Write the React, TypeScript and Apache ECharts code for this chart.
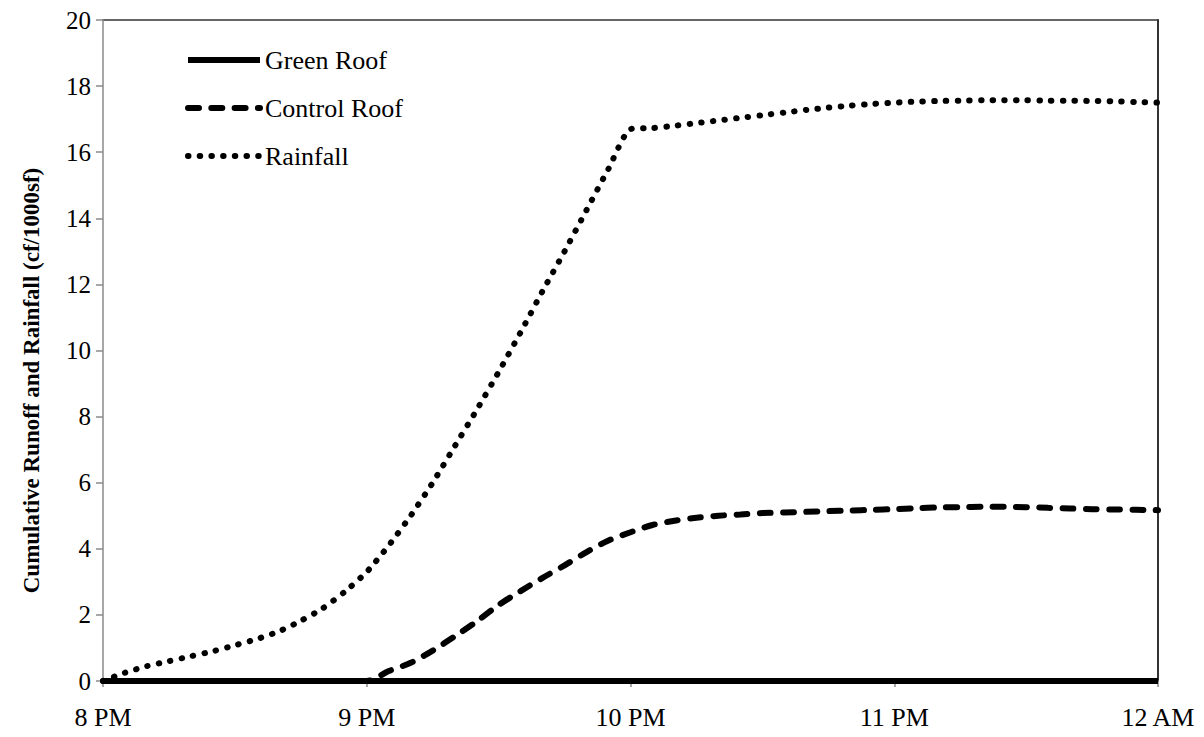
import React, { useEffect, useRef } from "react";
import * as echarts from "echarts";

// Minutes after 8 PM at which each reading was taken
const timeMinutes = [
  0, 5, 10, 15, 20, 25, 30, 35, 40, 45, 50, 55,
  60, 65, 70, 75, 80, 85, 90, 95, 100, 105, 110, 115,
  120, 125, 130, 135, 140, 145, 150, 155, 160, 165, 170, 175,
  180, 185, 190, 195, 200, 205, 210, 215, 220, 225, 230, 235, 240,
];

// Hour tick labels along the time axis (one every 60 minutes)
const hourLabels = ["8 PM", "9 PM", "10 PM", "11 PM", "12 AM"];

// Cumulative runoff and rainfall, cf per 1000 sf
const greenRoof = [
  0, 0, 0, 0, 0, 0, 0, 0, 0, 0, 0, 0,
  0, 0, 0, 0, 0, 0, 0, 0, 0, 0, 0, 0,
  0, 0, 0, 0, 0, 0, 0, 0, 0, 0, 0, 0,
  0, 0, 0, 0, 0, 0, 0, 0, 0, 0, 0, 0, 0,
];

const controlRoof = [
  0, 0, 0, 0, 0, 0, 0, 0, 0, 0, 0, 0,
  0, 0.3, 0.55, 0.92, 1.35, 1.8, 2.3, 2.72, 3.12, 3.5, 3.9, 4.25,
  4.5, 4.72, 4.85, 4.94, 5.0, 5.04, 5.08, 5.1, 5.12, 5.14, 5.16, 5.18,
  5.2, 5.23, 5.25, 5.26, 5.27, 5.27, 5.26, 5.24, 5.22, 5.2, 5.19, 5.18, 5.17,
];

const rainfall = [
  0, 0.25, 0.45, 0.6, 0.75, 0.9, 1.08, 1.27, 1.5, 1.82, 2.2, 2.7,
  3.3, 4.1, 5.0, 6.0, 7.1, 8.2, 9.35, 10.55, 11.8, 13.0, 14.25, 15.5,
  16.7, 16.73, 16.8, 16.88, 16.96, 17.04, 17.12, 17.2, 17.28, 17.35, 17.41, 17.46,
  17.5, 17.53, 17.55, 17.56, 17.57, 17.57, 17.57, 17.56, 17.56, 17.55, 17.54, 17.52, 17.5,
];

const FONT = "Liberation Serif, Times New Roman, serif";
const AXIS_GRAY = "#8a8a8a";
const FRAME = "#333333";

// Line looks shared by each series and its legend entry
const greenStyle = { color: "#000", width: 6, type: "solid" as const };
const controlStyle = { color: "#000", width: 6, type: [11, 12.3], cap: "round" as const };
const rainStyle = { color: "#000", width: 6, type: [0.5, 11.2], cap: "round" as const };

const pairs = (values: number[]) => timeMinutes.map((t, i) => [t, values[i]]);

export default function App() {
  const ref = useRef<HTMLDivElement>(null);

  useEffect(() => {
    if (!ref.current) return;
    const chart = echarts.init(ref.current, undefined, { renderer: "svg" });

    chart.setOption({
      animation: false,
      backgroundColor: "#ffffff",
      textStyle: { fontFamily: FONT },
      grid: { left: 103, right: 46, top: 20, bottom: 56, containLabel: false },
      legend: {
        orient: "vertical",
        left: 180,
        top: 42,
        itemWidth: 72,
        itemHeight: 20,
        itemGap: 22,
        itemStyle: { opacity: 0 },
        textStyle: { fontFamily: FONT, fontSize: 26, color: "#000" },
        data: [
          { name: "Green Roof", lineStyle: greenStyle, itemStyle: { opacity: 0 } },
          { name: "Control Roof", lineStyle: controlStyle, itemStyle: { opacity: 0 } },
          { name: "Rainfall", lineStyle: rainStyle, itemStyle: { opacity: 0 } },
        ],
      },
      xAxis: [
        {
          type: "value",
          min: 0,
          max: 240,
          interval: 60,
          position: "bottom",
          axisLine: { show: true, onZero: false, lineStyle: { color: AXIS_GRAY, width: 1.5 } },
          axisTick: { show: true, length: 6, lineStyle: { color: AXIS_GRAY, width: 1.5 } },
          axisLabel: {
            margin: 23,
            fontFamily: FONT,
            fontSize: 26,
            color: "#000",
            formatter: (v: number) => hourLabels[Math.round(v / 60)] ?? "",
          },
          splitLine: { show: false },
          z: 3,
        },
        {
          type: "value",
          min: 0,
          max: 240,
          position: "top",
          axisLine: { show: true, onZero: false, lineStyle: { color: FRAME, width: 1.5 } },
          axisTick: { show: false },
          axisLabel: { show: false },
          splitLine: { show: false },
        },
      ],
      yAxis: [
        {
          type: "value",
          min: 0,
          max: 20,
          interval: 2,
          position: "left",
          name: "Cumulative Runoff and Rainfall (cf/1000sf)",
          nameLocation: "middle",
          nameRotate: 90,
          nameGap: 60,
          nameTextStyle: {
            fontFamily: FONT,
            fontSize: 23,
            fontWeight: "bold",
            color: "#000",
            padding: [0, 60, 0, 0],
          },
          axisLine: { show: true, onZero: false, lineStyle: { color: AXIS_GRAY, width: 1.5 } },
          axisTick: { show: true, length: 7, lineStyle: { color: AXIS_GRAY, width: 1.5 } },
          axisLabel: { margin: 12, fontFamily: FONT, fontSize: 25, color: "#000" },
          splitLine: { show: false },
          z: 3,
        },
        {
          type: "value",
          min: 0,
          max: 20,
          position: "right",
          axisLine: { show: true, onZero: false, lineStyle: { color: FRAME, width: 2 } },
          axisTick: { show: false },
          axisLabel: { show: false },
          splitLine: { show: false },
        },
      ],
      series: [
        {
          name: "Green Roof",
          type: "line",
          data: pairs(greenRoof),
          showSymbol: false,
          symbol: "none",
          lineStyle: greenStyle,
          itemStyle: { color: "#000" },
          z: 4,
        },
        {
          name: "Control Roof",
          type: "line",
          data: pairs(controlRoof),
          showSymbol: false,
          symbol: "none",
          smooth: 0.3,
          lineStyle: controlStyle,
          itemStyle: { color: "#000" },
          z: 3,
        },
        {
          name: "Rainfall",
          type: "line",
          data: pairs(rainfall),
          showSymbol: false,
          symbol: "none",
          smooth: 0.2,
          lineStyle: rainStyle,
          itemStyle: { color: "#000" },
          z: 3,
        },
      ],
    });

    return () => chart.dispose();
  }, []);

  return (
    <div
      ref={ref}
      style={{ position: "fixed", left: 0, top: 0, width: 1204, height: 737, background: "#fff" }}
    />
  );
}
